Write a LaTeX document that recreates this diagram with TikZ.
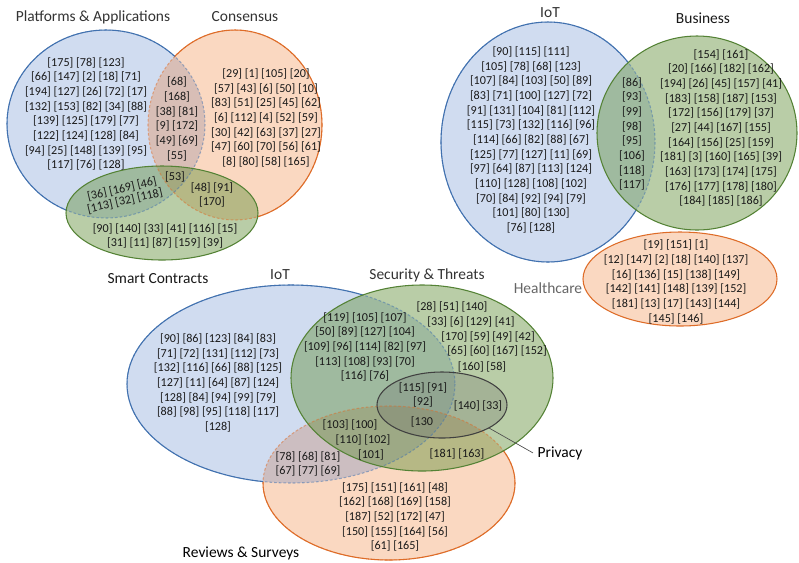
\documentclass[tikz,border=0pt]{standalone}
\usepackage{fontspec}
\setmainfont{Carlito}
\usepackage{tikz}

\definecolor{setblue}{RGB}{68,114,196}
\definecolor{setblueline}{RGB}{65,113,175}
\definecolor{setorange}{RGB}{237,125,49}
\definecolor{setorangeline}{RGB}{222,108,40}
\definecolor{setgreen}{RGB}{100,145,60}
\definecolor{setgreenline}{RGB}{84,130,53}

\begin{document}
\begin{tikzpicture}[x=0.75pt,y=-0.75pt,
    refs/.style={font=\fontsize{9.1}{11}\selectfont, align=center, inner sep=0pt, text=black!90},
    setname/.style={font=\fontsize{11.6}{14}\selectfont, anchor=base, text=black!80},
    bluefill/.style={fill=setblue, fill opacity=0.25},
    orangefill/.style={fill=setorange, fill opacity=0.3},
    greenfill/.style={fill=setgreen, fill opacity=0.45},
    blueline/.style={draw=setblueline, line width=0.8pt},
    orangeline/.style={draw=setorangeline, line width=0.8pt},
    greenline/.style={draw=setgreenline, line width=0.8pt},
    hidden/.style={dash pattern=on 2pt off 1.5pt, draw opacity=0.5},
    outside/.style={insert path={(-20,-20) -- (-20,600) -- (830,600) -- (830,-20) -- cycle}}]
  \useasboundingbox (0,0) rectangle (799,562);

  % platforms, consensus, smart contracts
  \fill[bluefill] (106,124) ellipse (99 and 94);
  \fill[orangefill] (235,125) ellipse (87 and 95);
  \fill[greenfill] (162,213) ellipse (96 and 47);
  \draw[blueline, hidden] (106,124) ellipse (99 and 94);
  \draw[orangeline, hidden] (235,125) ellipse (87 and 95);
  \begin{scope}
    \clip[outside] (235,125) ellipse (87 and 95);
    \clip[outside] (162,213) ellipse (96 and 47);
    \draw[blueline] (106,124) ellipse (99 and 94);
  \end{scope}
  \begin{scope}
    \clip[outside] (106,124) ellipse (99 and 94);
    \clip[outside] (162,213) ellipse (96 and 47);
    \draw[orangeline] (235,125) ellipse (87 and 95);
  \end{scope}
  \draw[greenline] (162,213) ellipse (96 and 47);

  \node[setname] (platname) at (93,21) {Platforms \& Applications};
  \node[setname] (consname) at (245,21) {Consensus};
  \node[setname, text=black!90] (smartname) at (158,283) {Smart Contracts};

  \node[refs] (platonly) at (86,114) {[175] [78] [123]\\{}[66] [147] [2] [18] [71]\\{}[194] [127] [26] [72] [17]\\{}[132] [153] [82] [34] [88]\\{}[139] [125] [179] [77]\\{}[122] [124] [128] [84]\\{}[94] [25] [148] [139] [95]\\{}[117] [76] [128]};
  \node[refs] (platcons) at (177,119) {[68]\\{}[168]\\{}[38] [81]\\{}[9] [172]\\{}[49] [69]\\{}[55]};
  \node[refs] (consonly) at (266,118) {[29] [1] [105] [20]\\{}[57] [43] [6] [50] [10]\\{}[83] [51] [25] [45] [62]\\{}[6] [112] [4] [52] [59]\\{}[30] [42] [63] [37] [27]\\{}[47] [60] [70] [56] [61]\\{}[8] [80] [58] [165]};
  \node[refs] (platconssmart) at (175,177) {[53]};
  \node[refs, rotate=13] (platsmart1) at (122,189) {[36] [169] [46]};
  \node[refs, rotate=13] (platsmart2) at (125,201) {[113] [32] [118]};
  \node[refs] (conssmart) at (212,195) {[48] [91]\\{}[170]};
  \node[refs] (smartonly) at (165,236) {[90] [140] [33] [41] [116] [15]\\{}[31] [11] [87] [159] [39]};

  % iot, business, healthcare
  \fill[bluefill] (548,142) ellipse (107 and 120);
  \fill[greenfill] (697,133) ellipse (100 and 97);
  \fill[orangefill] (680,279) ellipse (97 and 47);
  \draw[blueline, hidden] (548,142) ellipse (107 and 120);
  \begin{scope}
    \clip[outside] (697,133) ellipse (100 and 97);
    \draw[blueline] (548,142) ellipse (107 and 120);
  \end{scope}
  \draw[greenline] (697,133) ellipse (100 and 97);
  \draw[orangeline] (680,279) ellipse (97 and 47);

  \node[setname] (iotname) at (550,17) {IoT};
  \node[setname, text=black!90] (busname) at (703,23) {Business};
  \node[setname, text=black!60] (healthname) at (548,293) {Healthcare};

  \node[refs] (iotonly) at (531,140) {[90] [115] [111]\\{}[105] [78] [68] [123]\\{}[107] [84] [103] [50] [89]\\{}[83] [71] [100] [127] [72]\\{}[91] [131] [104] [81] [112]\\{}[115] [73] [132] [116] [96]\\{}[114] [66] [82] [88] [67]\\{}[125] [77] [127] [11] [69]\\{}[97] [64] [87] [113] [124]\\{}[110] [128] [108] [102]\\{}[70] [84] [92] [94] [79]\\{}[101] [80] [130]\\{}[76] [128]};
  \node[refs] (iotbus) at (632,134) {[86]\\{}[93]\\{}[99]\\{}[98]\\{}[95]\\{}[106]\\{}[118]\\{}[117]};
  \node[refs] (busonly) at (721,128) {[154] [161]\\{}[20] [166] [182] [162]\\{}[194] [26] [45] [157] [41]\\{}[183] [158] [187] [153]\\{}[172] [156] [179] [37]\\{}[27] [44] [167] [155]\\{}[164] [156] [25] [159]\\{}[181] [3] [160] [165] [39]\\{}[163] [173] [174] [175]\\{}[176] [177] [178] [180]\\{}[184] [185] [186]};
  \node[refs] (healthonly) at (676,282) {[19] [151] [1]\\{}[12] [147] [2] [18] [140] [137]\\{}[16] [136] [15] [138] [149]\\{}[142] [141] [148] [139] [152]\\{}[181] [13] [17] [143] [144]\\{}[145] [146]};

  % iot, security, privacy, reviews
  \fill[orangefill] (389,483) ellipse (126 and 77);
  \fill[bluefill] (291,384) ellipse (164 and 99);
  \fill[greenfill] (422,378) ellipse (131 and 93);
  \fill[black!60, fill opacity=0.25] (442,405) ellipse (65 and 33);
  \draw[orangeline, hidden] (389,483) ellipse (126 and 77);
  \draw[blueline, hidden] (291,384) ellipse (164 and 99);
  \begin{scope}
    \clip[outside] (291,384) ellipse (164 and 99);
    \clip[outside] (422,378) ellipse (131 and 93);
    \draw[orangeline] (389,483) ellipse (126 and 77);
  \end{scope}
  \begin{scope}
    \clip[outside] (389,483) ellipse (126 and 77);
    \clip[outside] (422,378) ellipse (131 and 93);
    \draw[blueline] (291,384) ellipse (164 and 99);
  \end{scope}
  \draw[greenline] (422,378) ellipse (131 and 93);
  \draw[black!75, line width=0.8pt] (442,405) ellipse (65 and 33);

  \node[setname] (iotname2) at (280,279) {IoT};
  \node[setname] (secname) at (427,279) {Security \& Threats};
  \node[setname, text=black, anchor=base west] (privname) at (533,457) {Privacy};
  \node[setname, text=black] (revname) at (241,557) {Reviews \& Surveys};
  \coordinate (privtip) at (489,428);
  \draw[black!70, line width=0.5pt] (privtip) -- (privname.west);

  \node[refs] (iotonly2) at (218,383) {[90] [86] [123] [84] [83]\\{}[71] [72] [131] [112] [73]\\{}[132] [116] [66] [88] [125]\\{}[127] [11] [64] [87] [124]\\{}[128] [84] [94] [99] [79]\\{}[88] [98] [95] [118] [117]\\{}[128]};
  \node[refs] (iotsec) at (365,347) {[119] [105] [107]\\{}[50] [89] [127] [104]\\{}[109] [96] [114] [82] [97]\\{}[113] [108] [93] [70]\\{}[116] [76]};
  \foreach \x/\y/\t [count=\i] in {452/307/{[28] [51] [140]}, 471/322/{[33] [6] [129] [41]}, 488/337/{[170] [59] [49] [42]}, 497/351/{[65] [60] [167] [152]}, 482/367/{[160] [58]}}
    \node[refs] (seconly\i) at (\x,\y) {\t};
  \node[refs] (iotsecpriv) at (423,395) {[115] [91]\\{}[92]};
  \node[refs] (secpriv) at (478,406) {[140] [33]};
  \node[refs] (allpriv) at (422,422) {[130};
  \foreach \x/\y/\t [count=\i] in {350/425/{[103] [100]}, 363/440/{[110] [102]}, 371/455/{[101]}}
    \node[refs] (iotsecrev\i) at (\x,\y) {\t};
  \node[refs] (secrev) at (457,454) {[181] [163]};
  \node[refs] (iotrev) at (308,464) {[78] [68] [81]\\{}[67] [77] [69]};
  \node[refs] (revonly) at (395,517) {[175] [151] [161] [48]\\{}[162] [168] [169] [158]\\{}[187] [52] [172] [47]\\{}[150] [155] [164] [56]\\{}[61] [165]};
\end{tikzpicture}
\end{document}
